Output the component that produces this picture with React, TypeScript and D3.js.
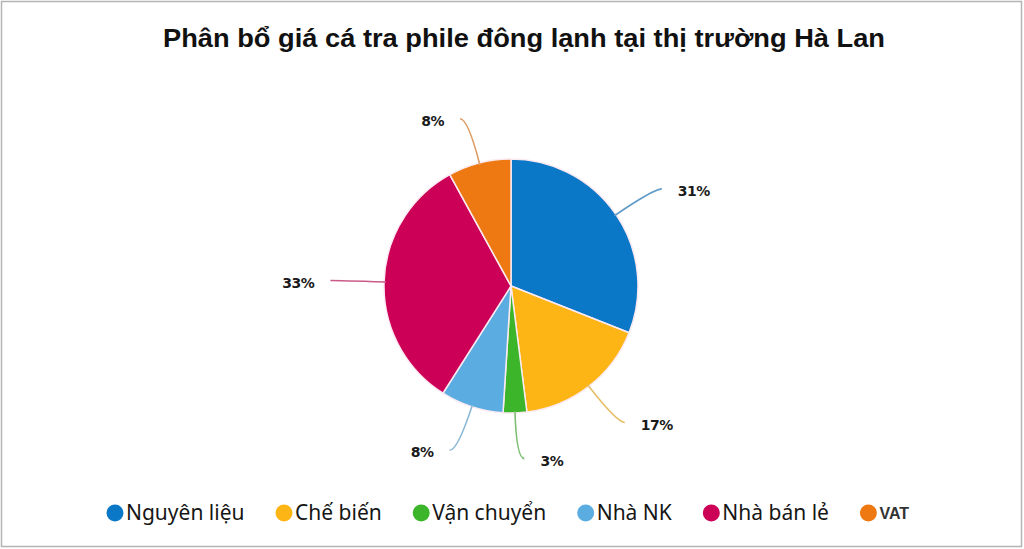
import { useEffect, useRef } from 'react'
import * as d3 from 'd3'

const categories = ['Nguyên liệu', 'Chế biến', 'Vận chuyển', 'Nhà NK', 'Nhà bán lẻ', 'VAT']
const shares = [31, 17, 3, 8, 33, 8]
const colors = ['#0b77c7', '#fdb516', '#3db52b', '#5badE1', '#cc0057', '#ee7912']
const title = 'Phân bổ giá cá tra phile đông lạnh tại thị trường Hà Lan'

const W = 1024
const H = 549

export default function App() {
  const ref = useRef<SVGSVGElement | null>(null)

  useEffect(() => {
    const svg = d3.select(ref.current)
    svg.selectAll('*').remove()

    svg.append('rect')
      .attr('x', 1.5).attr('y', 1.5)
      .attr('width', W - 4).attr('height', H - 4)
      .attr('fill', '#fff')
      .attr('stroke', '#b4b4b4')
      .attr('stroke-width', 1.5)

    const t = svg.append('text')
      .attr('x', 524).attr('y', 47)
      .attr('text-anchor', 'middle')
      .attr('font-family', '"Liberation Sans", Arial, sans-serif')
      .attr('font-weight', 'bold')
      .attr('font-size', 26)
      .attr('fill', '#111')
      .text(title)
    // stretch the title to the width it has in the source image
    const tw = (t.node() as SVGTextElement).getComputedTextLength()
    if (tw > 0) t.attr('textLength', 722).attr('lengthAdjust', 'spacingAndGlyphs')

    const cx = 511
    const cy = 286
    const r = 127

    const pie = d3.pie<number>().sort(null).value((d) => d)
    const arcs = pie(shares)
    const arc = d3.arc<d3.PieArcDatum<number>>().innerRadius(0).outerRadius(r)

    const g = svg.append('g').attr('transform', `translate(${cx},${cy})`)

    g.selectAll('path.slice')
      .data(arcs)
      .enter()
      .append('path')
      .attr('class', 'slice')
      .attr('d', arc)
      .attr('fill', (_, i) => colors[i])
      .attr('stroke', '#fbeaf2')
      .attr('stroke-width', 1.5)

    const polar = (a: number, rad: number): [number, number] => [Math.sin(a) * rad, -Math.cos(a) * rad]

    arcs.forEach((d, i) => {
      const mid = (d.startAngle + d.endAngle) / 2
      const dir = Math.sin(mid) >= 0 ? 1 : -1
      const s = polar(mid, r - 2)
      const e = polar(mid, r * 1.36)
      const end: [number, number] = [e[0] + dir * 8, e[1]]
      const lineColor = d3.interpolateRgb(colors[i], '#c8c8c8')(0.45)
      g.append('path')
        .attr('d', `M${s[0]},${s[1]} Q${e[0]},${e[1]} ${end[0]},${end[1]}`)
        .attr('fill', 'none')
        .attr('stroke', lineColor)
        .attr('stroke-width', 1.6)
      g.append('text')
        .attr('x', end[0] + dir * 16)
        .attr('y', end[1] + 2)
        .attr('dy', '0.36em')
        .attr('text-anchor', dir > 0 ? 'start' : 'end')
        .attr('font-family', '"DejaVu Sans", sans-serif')
        .attr('font-weight', 'bold')
        .attr('font-size', 14)
        .attr('letter-spacing', -0.5)
        .attr('fill', '#1a1a1a')
        .text(`${shares[i]}%`)
    })

    // legend, flow layout centred under the chart
    const legend = svg.append('g')
    const items = legend.selectAll('g.item')
      .data(categories)
      .enter()
      .append('g')
      .attr('class', 'item')
    items.append('circle')
      .attr('r', 8.5)
      .attr('cx', 0)
      .attr('cy', 0)
      .attr('fill', (_, i) => colors[i])
    const texts = items.append('text')
      .attr('x', 11)
      .attr('y', 0)
      .attr('dy', '0.35em')
      .attr('font-family', (d) => d === 'VAT' ? '"Liberation Sans", Arial, sans-serif' : '"Noto Sans", sans-serif')
      .attr('font-weight', (d) => d === 'VAT' ? 'bold' : 'normal')
      .attr('font-size', (d) => d === 'VAT' ? 16 : 21)
      .attr('fill', (d) => d === 'VAT' ? '#333' : '#161616')
      .text((d) => d)

    const widths: number[] = []
    texts.each(function () { widths.push((this as SVGTextElement).getComputedTextLength()) })
    const gap = 31
    const itemW = widths.map((w) => 8.5 + 11 + w)
    const total = d3.sum(itemW) + gap * (itemW.length - 1) + 8.5
    let x = (W - total) / 2 + 8.5
    items.attr('transform', (_, i) => {
      const tr = `translate(${x},513)`
      x += itemW[i] + gap
      return tr
    })
  }, [])

  return (
    <div style={{ position: 'fixed', left: 0, top: 0 }}>
      <svg width={W} height={H} ref={ref} style={{ display: 'block' }} />
    </div>
  )
}
